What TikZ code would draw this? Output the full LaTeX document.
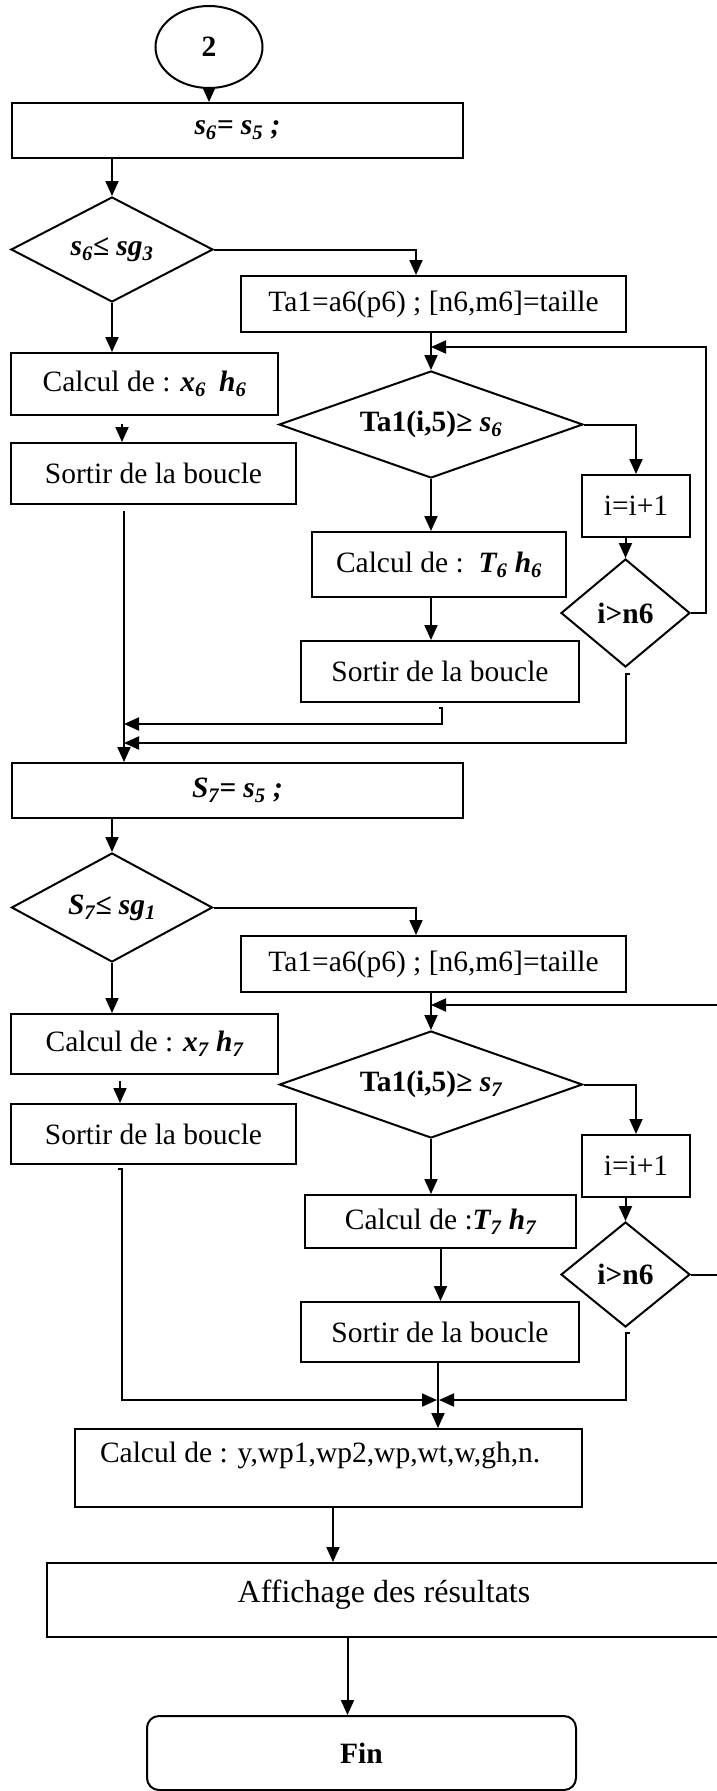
\documentclass[tikz,border=0pt]{standalone}
\usepackage{fontspec}
\setmainfont{Liberation Serif}
\usetikzlibrary{arrows.meta,shapes.geometric,calc}

\newcommand{\bi}[1]{\textbf{\textit{#1}}}

\begin{document}
\begin{tikzpicture}[x=1pt,y=-1pt,
  every node/.style={font=\fontsize{29.5}{34}\selectfont},
  box/.style={draw, rectangle, inner sep=0pt, line width=2pt},
  dec/.style={draw, diamond, inner sep=0pt, line width=2pt, aspect=2.5},
  smalldec/.style={draw, diamond, inner sep=0pt, line width=2pt, aspect=1.2},
  term/.style={draw, rectangle, rounded corners=12pt, inner sep=0pt, line width=2pt},
  flow/.style={line width=2pt, -{Triangle[length=15pt,width=13pt]}}]

\useasboundingbox (0,0) rectangle (717,1791);
\clip (0,0) rectangle (717,1791);

% ---------- first loop ----------
\node[draw, ellipse, line width=2pt, inner sep=0pt, minimum width=107pt, minimum height=82pt] (start) at (209,47) {\textbf{2}};
\node[box, minimum width=451pt, minimum height=55pt] (set6) at (237.5,130.5) {\bi{s\textsubscript{6}= s\textsubscript{5} ;}};
\node[dec, minimum width=202pt, minimum height=105pt] (dec1) at (112,249.5) {\bi{s\textsubscript{6}≤ sg\textsubscript{3}}};
\node[box, minimum width=385pt, minimum height=56pt] (tab1) at (433.5,304) {Ta1=a6(p6) ; [n6,m6]=taille};
\node[box, minimum width=267pt, minimum height=62pt] (calcx6) at (144.5,384) {Calcul de : \bi{x\textsubscript{6}\hspace{0.45em}h\textsubscript{6}}};
\node[box, minimum width=285pt, minimum height=61pt] (out1) at (153.5,473.5) {Sortir de la boucle};
\node[dec, minimum width=304pt, minimum height=107pt] (cmp1) at (431,424.5) {\textbf{Ta1(i,5)≥ \textit{s\textsubscript{6}}}};
\node[box, minimum width=108pt, minimum height=62pt] (inc1) at (636,506) {i=i+1};
\node[smalldec, minimum width=129pt, minimum height=108pt] (end1) at (625.5,613) {\textbf{i>n6}};
\node[box, minimum width=254pt, minimum height=65pt] (calct6) at (439,564.5) {Calcul de :\ \ \bi{T\textsubscript{6} h\textsubscript{6}}};
\node[box, minimum width=278pt, minimum height=61pt] (out2) at (440,671.5) {Sortir de la boucle};

% ---------- second loop ----------
\node[box, minimum width=451pt, minimum height=55pt] (set7) at (237.5,790.5) {\bi{S\textsubscript{7}= s\textsubscript{5} ;}};
\node[dec, minimum width=201pt, minimum height=109pt] (dec2) at (112,907.5) {\bi{S\textsubscript{7}≤ sg\textsubscript{1}}};
\node[box, minimum width=385pt, minimum height=56pt] (tab2) at (433.5,964) {Ta1=a6(p6) ; [n6,m6]=taille};
\node[box, minimum width=267pt, minimum height=60pt] (calcx7) at (144.5,1044) {Calcul de : \bi{x\textsubscript{7} h\textsubscript{7}}};
\node[box, minimum width=285pt, minimum height=60pt] (out3) at (153.5,1134) {Sortir de la boucle};
\node[dec, minimum width=303pt, minimum height=107pt] (cmp2) at (431,1084.5) {\textbf{Ta1(i,5)≥ \textit{s\textsubscript{7}}}};
\node[box, minimum width=108pt, minimum height=62pt] (inc2) at (636,1166) {i=i+1};
\node[smalldec, minimum width=129pt, minimum height=105pt] (end2) at (625.5,1274.5) {\textbf{i>n6}};
\node[box, minimum width=271pt, minimum height=53pt] (calct7) at (440.5,1221.5) {Calcul de :\bi{T\textsubscript{7} h\textsubscript{7}}};
\node[box, minimum width=278pt, minimum height=60pt] (out4) at (440,1332) {Sortir de la boucle};

% ---------- results ----------
\node[box, minimum width=507pt, minimum height=78pt, text height=22pt, text depth=34pt] (res) at (328.5,1468) {\makebox[457pt][l]{Calcul de : y,wp1,wp2,wp,wt,w,gh,n.}};
\node[box, minimum width=674pt, minimum height=74pt, text height=24pt, text depth=20pt, font=\fontsize{32}{38}\selectfont] (aff) at (384,1600) {Affichage des résultats};
\node[term, minimum width=429pt, minimum height=74pt] (fin) at (361.5,1753) {\textbf{Fin}};

% ---------- connectors, first loop ----------
\draw[flow] (start.south) -- (start.south |- set6.north);
\draw[flow] (set6.south -| dec1.north) -- (dec1.north);
\draw[flow] (dec1.east) -| ($(tab1.north)+(-17.5,0)$);
\draw[flow] (dec1.south) -- (dec1.south |- calcx6.north);
\coordinate (cx6o) at ($(calcx6.south west)+(112,8)$);
\draw[flow] (cx6o) -- (cx6o |- out1.north);
\draw[flow] (tab1.south -| cmp1.north) -- (cmp1.north);
\draw[flow] (cmp1.east) -| (inc1.north);
\draw[flow] (end1.north |- inc1.south) -- (end1.north);
\draw[flow] (cmp1.south) -- (cmp1.south |- calct6.north);
\draw[flow] (calct6.south -| cmp1.south) -- (out2.north -| cmp1.south);
\coordinate (fb1) at (706,347);
\draw[flow] (end1.east) -| (fb1) -- (fb1 -| cmp1.north);

% merge towards the second block
\coordinate (m1) at ($(out1.south west)+(114,6)$);
\draw[flow] (m1) -- (m1 |- set7.north);
\coordinate (h1) at ($(out2.south)+(2,5)$);
\coordinate (h1b) at ($(out2.south)+(2,21)$);
\draw[flow] ($(h1)+(-3,0)$) -- (h1) -- (h1b) -- (h1b -| m1);
\coordinate (f1) at ($(end1.south)+(0,6)$);
\coordinate (f1b) at ($(end1.south)+(0,75)$);
\draw[flow] ($(f1)+(4,0)$) -- (f1) -- (f1b) -- (f1b -| m1);

% ---------- connectors, second loop ----------
\draw[flow] (set7.south -| dec2.north) -- (dec2.north);
\draw[flow] (dec2.east) -| ($(tab2.north)+(-17.5,0)$);
\draw[flow] (dec2.south) -- (dec2.south |- calcx7.north);
\coordinate (cx7o) at ($(calcx7.south west)+(110,6)$);
\draw[flow] (cx7o) -- (cx7o |- out3.north);
\draw[flow] (tab2.south -| cmp2.north) -- (cmp2.north);
\draw[flow] (cmp2.east) -| (inc2.north);
\draw[flow] (end2.north |- inc2.south) -- (end2.north);
\draw[flow] (cmp2.south) -- (cmp2.south |- calct7.north);
\draw[flow] (calct7.south) -- (calct7.south |- out4.north);
\coordinate (fb2) at (740,1005);
\draw[flow] (end2.east) -| (fb2) -- (fb2 -| cmp2.north);

% merge towards the results
\coordinate (jv) at ($(out4.south)+(-2,0)$);
\coordinate (j3) at ($(out4.south)+(-2,37)$);
\draw[flow] (jv) -- (jv |- res.north);
\coordinate (o3) at ($(out3.south west)+(112,4)$);
\draw[flow] ($(o3)+(-4,0)$) -- (o3) |- ($(j3)+(-1,0)$);
\coordinate (f2) at ($(end2.south)+(0,5)$);
\draw[flow] ($(f2)+(4,0)$) -- (f2) |- ($(j3)+(1,0)$);

% ---------- results ----------
\coordinate (ra) at ($(res.south)+(4.5,0)$);
\draw[flow] (ra) -- (ra |- aff.north);
\coordinate (af) at ($(fin.north)+(-14,0)$);
\draw[flow] (af |- aff.south) -- (af);
\end{tikzpicture}
\end{document}
